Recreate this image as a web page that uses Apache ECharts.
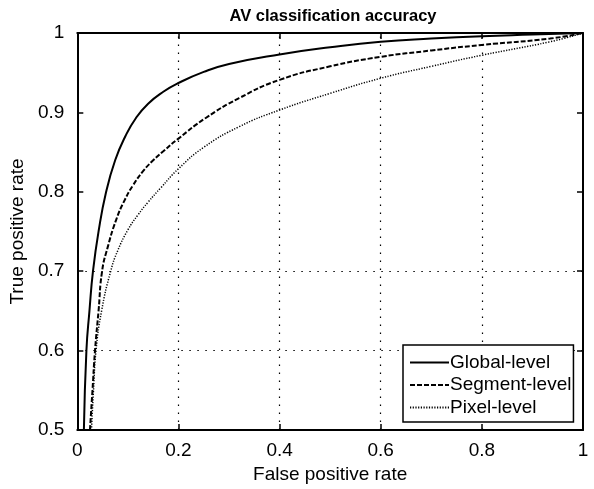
<!DOCTYPE html>
<html>
<head>
<meta charset="utf-8">
<script src="https://cdn.jsdelivr.net/npm/echarts@6/dist/echarts.min.js"></script>
<style>html,body{margin:0;padding:0;background:#fff}#c{width:594px;height:489px}</style>
</head>
<body>
<div id="c"></div>
<script>
const titleText = 'AV classification accuracy';
const xName = 'False positive rate';
const yName = 'True positive rate';
const seriesNames = ['Global-level', 'Segment-level', 'Pixel-level'];

const globalLevel = [[0.013,0.5],[0.018,0.6],[0.024,0.65],[0.031,0.7],[0.042,0.75],[0.057,0.8],[0.075,0.84],[0.095,0.87],[0.116,0.893],[0.14,0.911],[0.17,0.926],[0.2,0.937],[0.25,0.951],[0.3,0.961],[0.4,0.973],[0.5,0.982],[0.6,0.989],[0.7,0.993],[0.8,0.996],[0.9,0.998],[1,1]];
const segmentLevel = [[0.025,0.5],[0.03,0.55],[0.035,0.6],[0.042,0.65],[0.049,0.7],[0.06,0.73],[0.077,0.765],[0.094,0.79],[0.11,0.808],[0.13,0.826],[0.149,0.839],[0.17,0.851],[0.2,0.867],[0.254,0.893],[0.32,0.918],[0.4,0.941],[0.5,0.958],[0.6,0.97],[0.7,0.978],[0.8,0.985],[0.935,0.993],[1,1]];
const pixelLevel = [[0.028,0.5],[0.032,0.55],[0.037,0.6],[0.048,0.65],[0.066,0.7],[0.08,0.726],[0.1,0.752],[0.12,0.771],[0.14,0.787],[0.165,0.805],[0.2,0.829],[0.25,0.856],[0.32,0.882],[0.4,0.903],[0.5,0.924],[0.6,0.943],[0.7,0.958],[0.8,0.972],[0.935,0.989],[1,1]];

const gridX = [0.2, 0.4, 0.6, 0.8];
const gridY = [0.6, 0.7];

const chart = echarts.init(document.getElementById('c'), null, {renderer: 'canvas'});
const font = 'Liberation Sans, Arial, sans-serif';
const FS = 19;
const axisCommon = {
  type: 'value',
  axisLine: {show: true, onZero: false, lineStyle: {color: '#000', width: 2}},
  axisTick: {show: true, inside: true, length: 6, lineStyle: {color: '#000', width: 1.5}},
  splitLine: {show: false},
  axisLabel: {color: '#000', fontSize: FS, fontFamily: font}
};
const curveBase = {type: 'line', symbol: 'none', showSymbol: false, smooth: 0.5, z: 3};

chart.setOption({
  animation: false,
  backgroundColor: '#fff',
  title: {text: titleText, left: 328, top: 3, textAlign: 'center',
    textStyle: {color: '#000', fontSize: 16.5, fontWeight: 'bold', fontFamily: font}},
  grid: {left: 74, top: 33, right: 11, bottom: 59},
  legend: {
    data: seriesNames, orient: 'vertical', left: 403, top: 345,
    backgroundColor: '#fff', borderColor: '#000', borderWidth: 1.5,
    padding: [8, 2, 5, 6], itemWidth: 39, itemHeight: 14, itemGap: 3.5,
    itemStyle: {color: 'transparent', borderWidth: 0, opacity: 0},
    textStyle: {color: '#000', fontSize: FS, lineHeight: 19, fontFamily: font, padding: [0,0,0,-4]},
    z: 10
  },
  xAxis: [
    Object.assign({}, axisCommon, {min: 0, max: 1, interval: 0.2, position: 'bottom',
      name: xName, nameLocation: 'middle', nameGap: 30.5,
      nameTextStyle: {color: '#000', fontSize: FS, fontFamily: font},
      axisLabel: Object.assign({}, axisCommon.axisLabel, {margin: 11})}),
    Object.assign({}, axisCommon, {min: 0, max: 1, interval: 0.2, position: 'top', axisLabel: {show: false}})
  ],
  yAxis: [
    Object.assign({}, axisCommon, {min: 0.5, max: 1, interval: 0.1, position: 'left',
      name: yName, nameLocation: 'middle', nameGap: 36.5,
      nameTextStyle: {color: '#000', fontSize: FS, fontFamily: font},
      axisLabel: Object.assign({}, axisCommon.axisLabel, {margin: 13})}),
    Object.assign({}, axisCommon, {min: 0.5, max: 1, interval: 0.1, position: 'right', axisLabel: {show: false}})
  ],
  series: [
    Object.assign({}, curveBase, {name: seriesNames[0], data: globalLevel,
      lineStyle: {color: '#000', width: 2, type: 'solid'}, itemStyle: {color: '#000'},
      markLine: {silent: true, symbol: 'none', label: {show: false}, animation: false,
        lineStyle: {color: '#000', width: 1.2, type: [1.5, 6.5]},
        data: gridX.map(v => ({xAxis: v})).concat(gridY.map(v => ({yAxis: v})))}}),
    Object.assign({}, curveBase, {name: seriesNames[1], data: segmentLevel,
      lineStyle: {color: '#000', width: 2, type: [5, 2]}, itemStyle: {color: '#000'}}),
    Object.assign({}, curveBase, {name: seriesNames[2], data: pixelLevel,
      lineStyle: {color: '#000', width: 1.5, type: [1.2, 1.5]}, itemStyle: {color: '#000'}})
  ]
});
</script>
</body>
</html>
